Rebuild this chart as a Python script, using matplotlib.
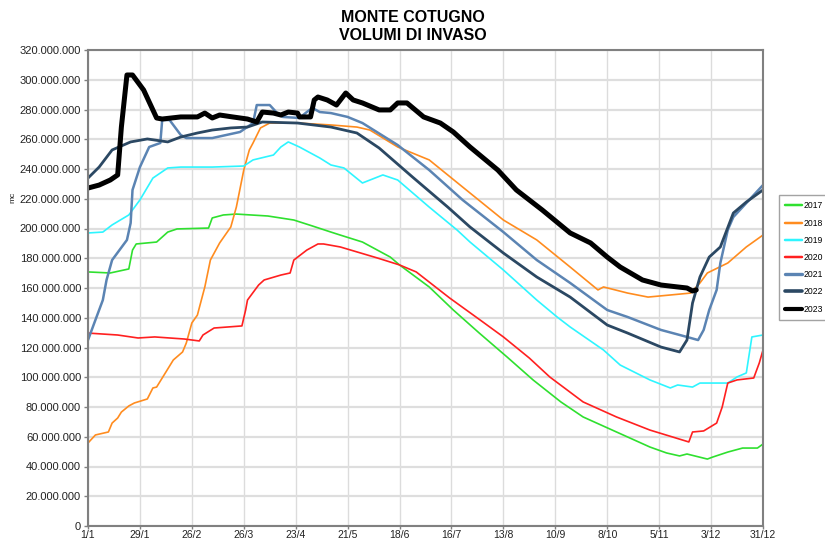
import matplotlib
matplotlib.use("Agg")
import matplotlib.pyplot as plt
from matplotlib.ticker import FuncFormatter, FixedLocator

plt.rcParams['font.family'] = ['Liberation Sans', 'DejaVu Sans']

# ---------------- data (day of year, volume in millions of m3) ----------------
tick_days = [0, 28, 56, 84, 112, 140, 168, 196, 224, 252, 280, 308, 336, 364]
tick_labels = ["1/1", "29/1", "26/2", "26/3", "23/4", "21/5", "18/6", "16/7",
               "13/8", "10/9", "8/10", "5/11", "3/12", "31/12"]

days_2017 = [0, 12, 22, 24, 26, 37, 43, 48, 65, 67, 73, 80, 97, 111, 121, 131, 136, 148,
             163, 168, 184, 197, 211, 226, 240, 255, 267, 285, 303, 312, 319, 323, 334,
             337, 345, 353, 361, 364]
vol_2017 = [170.8, 170.1, 172.8, 185.5, 189.6, 190.9, 197.6, 199.7, 200.3, 207.1, 209.1,
            209.7, 208.4, 205.7, 201.7, 197.6, 195.6, 190.9, 180.8, 175.5, 160.7, 145.2,
            129.7, 113.6, 98.2, 83.4, 73.3, 63.2, 53.1, 49.1, 47.1, 48.4, 45.0, 46.4, 49.7,
            52.4, 52.4, 55.1]

days_2018 = [0, 4, 11, 13, 16, 18, 22, 25, 32, 35, 37, 42, 46, 51, 53, 56, 59, 60, 63, 66,
             71, 77, 80, 84, 87, 89, 93, 98, 113, 131, 145, 152, 167, 184, 202, 224, 242,
             260, 275, 278, 291, 302, 314, 325, 330, 334, 345, 355, 364]
vol_2018 = [55.8, 61.2, 63.2, 69.2, 72.6, 76.6, 80.7, 82.7, 85.4, 92.8, 93.4, 103.5, 111.6,
            117.0, 123.0, 136.5, 141.8, 146.6, 160.7, 178.8, 190.3, 201.0, 214.4, 239.3,
            252.8, 257.5, 267.6, 270.9, 270.9, 269.6, 268.2, 266.2, 254.8, 246.1, 227.9,
            205.7, 192.3, 174.1, 158.7, 160.7, 156.6, 153.9, 155.3, 156.6, 163.4, 170.1,
            176.8, 187.6, 195.6]

days_2019 = [0, 8, 13, 22, 28, 35, 43, 50, 67, 84, 89, 100, 104, 108, 114, 125, 131, 138,
             148, 159, 167, 184, 199, 206, 224, 242, 253, 260, 278, 287, 303, 314, 318, 326,
             330, 345, 350, 355, 358, 364]
vol_2019 = [197.0, 197.6, 202.4, 209.1, 219.2, 233.9, 240.7, 241.3, 241.3, 242.0, 246.1,
            249.4, 254.8, 258.2, 254.8, 247.4, 242.7, 240.7, 230.6, 236.0, 232.6, 214.4,
            199.0, 190.9, 172.1, 151.9, 140.5, 133.8, 118.3, 108.2, 98.2, 92.8, 94.8, 93.4,
            96.1, 96.1, 100.2, 102.9, 127.1, 128.4]

days_2020 = [0, 16, 27, 36, 52, 60, 62, 68, 83, 85, 86, 92, 95, 104, 109, 111, 118, 124,
             127, 136, 156, 168, 177, 195, 213, 224, 238, 249, 267, 285, 303, 324, 326, 332,
             339, 342, 345, 350, 359, 362, 364]
vol_2020 = [129.7, 128.4, 126.4, 127.1, 125.7, 124.4, 128.4, 133.1, 134.5, 145.2, 151.9,
            162.0, 165.4, 168.7, 170.1, 178.8, 185.5, 189.6, 189.6, 187.6, 180.2, 175.5,
            170.8, 153.3, 137.1, 127.1, 112.9, 100.2, 83.4, 73.3, 64.5, 56.5, 63.2, 63.9,
            69.2, 80.0, 96.1, 98.2, 99.5, 109.6, 118.3]

days_2021 = [0, 4, 8, 10, 13, 21, 23, 24, 28, 33, 39, 40, 44, 50, 53, 67, 82, 89, 91, 98,
             102, 105, 114, 118, 121, 125, 131, 140, 148, 167, 184, 202, 224, 242, 260, 280,
             291, 309, 323, 329, 332, 335, 339, 341, 345, 348, 355, 364]
vol_2021 = [125.0, 138.5, 151.9, 165.4, 178.8, 192.3, 203.7, 225.9, 241.3, 254.8, 257.5,
            272.9, 272.9, 262.9, 260.8, 260.8, 264.9, 270.9, 283.0, 283.0, 277.6, 275.0,
            274.3, 278.3, 281.0, 278.3, 277.6, 275.0, 270.9, 256.1, 239.3, 219.2, 197.6,
            178.8, 163.4, 145.2, 140.5, 131.8, 127.1, 125.0, 131.8, 145.2, 158.7, 176.8,
            199.0, 207.7, 217.1, 229.2]

days_2022 = [0, 6, 13, 23, 32, 43, 50, 59, 67, 77, 86, 94, 113, 131, 145, 157, 175, 194,
             206, 224, 242, 260, 280, 291, 309, 319, 323, 326, 330, 335, 341, 348, 355, 364]
vol_2022 = [233.9, 241.3, 252.8, 258.2, 260.2, 258.2, 261.5, 264.2, 266.2, 267.6, 268.2,
            271.6, 270.9, 268.2, 264.2, 254.1, 234.6, 214.4, 201.0, 183.5, 167.4, 153.9,
            135.1, 129.7, 120.3, 117.0, 125.0, 149.9, 167.4, 180.8, 187.6, 210.4, 217.8,
            225.9]

days_2023 = [0, 6, 12, 16, 18, 21, 24, 30, 37, 40, 50, 59, 63, 67, 71, 78, 86, 91, 94, 100,
             104, 108, 113, 114, 120, 122, 124, 129, 134, 139, 143, 148, 157, 163, 167, 172,
             181, 190, 197, 206, 221, 231, 245, 260, 271, 280, 287, 299, 309, 318, 323, 326,
             328]
vol_2023 = [227.2, 229.2, 232.6, 236.0, 268.2, 303.2, 303.2, 293.1, 274.3, 273.6, 275.0,
            275.0, 277.6, 274.3, 276.3, 275.0, 273.6, 271.6, 278.3, 277.6, 276.3, 278.3,
            277.6, 275.0, 275.0, 286.4, 288.4, 286.4, 283.0, 291.1, 286.4, 284.4, 279.7,
            279.7, 284.4, 284.4, 275.0, 270.9, 264.9, 254.8, 239.3, 225.9, 212.4, 197.0,
            190.3, 180.8, 174.1, 165.4, 162.0, 160.7, 160.0, 158.0, 158.7]

years = ["2017", "2018", "2019", "2020", "2021", "2022", "2023"]
series_days = [days_2017, days_2018, days_2019, days_2020, days_2021, days_2022, days_2023]
series_vols = [vol_2017, vol_2018, vol_2019, vol_2020, vol_2021, vol_2022, vol_2023]

# ---------------- styling ----------------
colors = ["#2fe02f", "#ff8c1f", "#2ef5ff", "#ff2020", "#5b84b3", "#2b4863", "#000000"]
widths = [1.2, 1.2, 1.2, 1.2, 1.8, 2.0, 3.6]

fig = plt.figure(figsize=(8.25, 5.4), dpi=100)
ax = fig.add_axes([88 / 825, 1 - 526 / 540, (763 - 88) / 825, (526 - 50) / 540])

for yr, d, v, c, w in zip(years, series_days, series_vols, colors, widths):
    ax.plot(d, [x * 1e6 for x in v], color=c, lw=w, label=yr,
            solid_joinstyle="round", solid_capstyle="round")

ax.set_xlim(0, 364)
ax.set_ylim(0, 320e6)
ax.xaxis.set_major_locator(FixedLocator(tick_days))
ax.set_xticklabels(tick_labels)
ax.set_yticks([i * 20e6 for i in range(17)])
ax.yaxis.set_major_formatter(FuncFormatter(lambda v, p: f"{int(round(v)):,}".replace(",", ".")))

ax.grid(True, axis="y", color="#dedede", lw=1.6)
ax.grid(True, axis="x", color="#dcdcdc", lw=1.0)
ax.set_axisbelow(True)
for s in ax.spines.values():
    s.set_color("#808080")
    s.set_linewidth(1.5)
ax.tick_params(axis="both", colors="#808080", labelcolor="#222222", labelsize=8,
               length=3, width=1)
ax.tick_params(axis="x", labelsize=7.5, length=2, pad=1)
ax.tick_params(axis="y", pad=2)

fig.text(13 / 825, 1 - 197 / 540, "mc", rotation=90, fontsize=6, ha="center", va="center",
         color="#222222")

fig.text(0.5, 1 - 17 / 540, "MONTE COTUGNO", ha="center", va="center", fontsize=11.5,
         fontweight="bold")
fig.text(0.5, 1 - 36 / 540, "VOLUMI DI INVASO", ha="center", va="center", fontsize=11.5,
         fontweight="bold")

leg = fig.legend(loc="upper left", bbox_to_anchor=(779 / 825, 1 - 195 / 540),
                 fontsize=6.2, frameon=True, fancybox=False, edgecolor="#8c8c8c",
                 handlelength=1.9, handletextpad=0.15, labelspacing=0.95,
                 borderpad=0.75, borderaxespad=0)
leg.get_frame().set_linewidth(1.0)
for line in leg.get_lines():
    line.set_linewidth(min(line.get_linewidth() + 0.6, 3.0))

fig.savefig("out.png", dpi=100)
